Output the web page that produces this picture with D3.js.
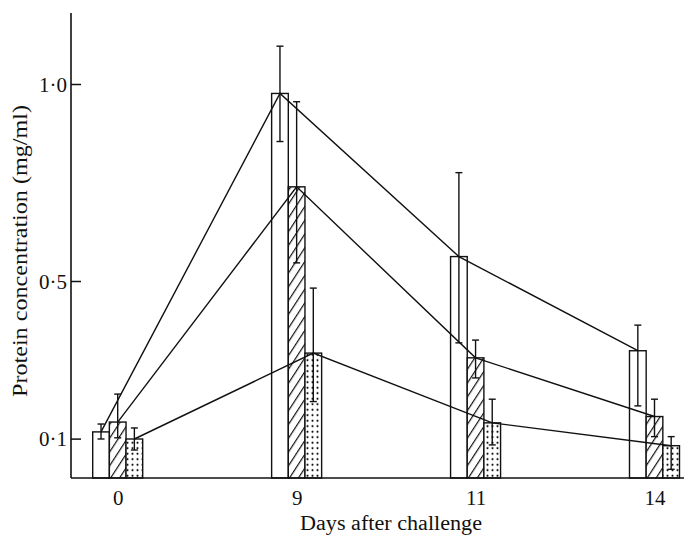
<!DOCTYPE html>
<html>
<head>
<meta charset="utf-8">
<script src="https://cdn.jsdelivr.net/npm/d3@7/dist/d3.min.js"></script>
<style>
html,body{margin:0;padding:0;background:#fff;}
svg{display:block;}
text{font-family:"Liberation Serif","DejaVu Serif",serif;fill:#111;}
</style>
</head>
<body>
<svg id="chart" width="684" height="537"></svg>
<script>
// ---- data ----
const days = ["0", "9", "11", "14"];
const seriesNames = ["open", "hatched", "dotted"];
const openValues    = [0.117, 0.976, 0.562, 0.323];
const hatchedValues = [0.142, 0.739, 0.305, 0.156];
const dottedValues  = [0.099, 0.317, 0.140, 0.082];
const openErrUp      = [0.020, 0.120, 0.213, 0.065];
const openErrDown    = [0.018, 0.122, 0.219, 0.140];
const hatchedErrUp   = [0.071, 0.216, 0.045, 0.044];
const hatchedErrDown = [0.040, 0.193, 0.051, 0.051];
const dottedErrUp    = [0.028, 0.165, 0.060, 0.023];
const dottedErrDown  = [0.028, 0.123, 0.056, 0.060];
const yTickValues = [0.1, 0.5, 1.0];
const yTickLabels = ["0·1", "0·5", "1·0"];
const yAxisTitle = "Protein concentration (mg/ml)";
const xAxisTitle = "Days after challenge";

const series = [
  {name: "open", values: openValues, up: openErrUp, down: openErrDown},
  {name: "hatched", values: hatchedValues, up: hatchedErrUp, down: hatchedErrDown},
  {name: "dotted", values: dottedValues, up: dottedErrUp, down: dottedErrDown}
];

const svg = d3.select("#chart");
const axisX = 71, baseY = 478;

// defs: patterns
const defs = svg.append("defs");
const hatch = defs.append("pattern").attr("id", "hatch")
  .attr("patternUnits", "userSpaceOnUse").attr("width", 7.5).attr("height", 10)
  .attr("patternTransform", "rotate(33)");
hatch.append("rect").attr("width", 7.5).attr("height", 10).attr("fill", "#fff");
hatch.append("line").attr("x1", 0.6).attr("y1", 0).attr("x2", 0.6).attr("y2", 10)
  .attr("stroke", "#111").attr("stroke-width", 1.2);
const dots = defs.append("pattern").attr("id", "dots")
  .attr("patternUnits", "userSpaceOnUse").attr("width", 5).attr("height", 5.5);
dots.append("rect").attr("width", 5).attr("height", 5.5).attr("fill", "#fff");
dots.append("circle").attr("cx", 2.5).attr("cy", 2.75).attr("r", 1.05).attr("fill", "#111");
const fills = {open: "#fff", hatched: "url(#hatch)", dotted: "url(#dots)"};

// scales
const y = d3.scaleLinear().domain([0, 1]).range([baseY, 84]);
const topY = y(1.18);
const x = d3.scalePoint().domain(days).range([117.7, 654.5]);
const xs = d3.scaleBand().domain(seriesNames).range([-25, 25]).paddingInner(0);
const bw = xs.bandwidth();

// bars
series.forEach(s => {
  svg.append("g").selectAll("rect").data(days).join("rect")
    .attr("x", (d) => x(d) + xs(s.name))
    .attr("y", (d, i) => y(s.values[i]))
    .attr("width", bw)
    .attr("height", (d, i) => baseY - y(s.values[i]))
    .attr("fill", fills[s.name])
    .attr("stroke", "#111").attr("stroke-width", 1.4);
});

// connecting lines
const line = d3.line().x(d => d[0]).y(d => d[1]);
series.forEach(s => {
  const pts = days.map((d, i) => [x(d) + xs(s.name) + bw / 2, y(s.values[i])]);
  svg.append("path").attr("d", line(pts)).attr("fill", "none")
    .attr("stroke", "#111").attr("stroke-width", 1.4);
});

// error bars
series.forEach(s => {
  const g = svg.append("g").attr("stroke", "#111").attr("stroke-width", 1.4);
  days.forEach((d, i) => {
    const cx = x(d) + xs(s.name) + bw / 2;
    const hi = y(s.values[i] + s.up[i]);
    const lo = Math.min(baseY, y(s.values[i] - s.down[i]));
    g.append("line").attr("x1", cx).attr("x2", cx).attr("y1", hi).attr("y2", lo);
    g.append("line").attr("x1", cx - 3.5).attr("x2", cx + 3.5).attr("y1", hi).attr("y2", hi);
    if (lo < baseY - 1) g.append("line").attr("x1", cx - 3.5).attr("x2", cx + 3.5).attr("y1", lo).attr("y2", lo);
  });
});

// y axis
const yAxis = d3.axisRight(y).tickValues(yTickValues)
  .tickFormat((d, i) => yTickLabels[i]).tickSize(10).tickPadding(0);
const ya = svg.append("g").attr("transform", `translate(${axisX},0)`).call(yAxis);
ya.select(".domain").remove();
ya.selectAll(".tick line").attr("stroke", "#111").attr("stroke-width", 1.5);
ya.selectAll(".tick text").attr("x", -4).attr("text-anchor", "end").attr("dy", "0.34em")
  .style("font-size", "21px").attr("fill", "#111");
svg.append("line").attr("x1", axisX).attr("x2", axisX).attr("y1", topY).attr("y2", baseY)
  .attr("stroke", "#111").attr("stroke-width", 1.6);

// x axis
const xAxis = d3.axisBottom(x).tickSize(0).tickPadding(12);
const xa = svg.append("g").attr("transform", `translate(0,${baseY})`).call(xAxis);
xa.select(".domain").remove();
xa.selectAll(".tick text").attr("y", 27).attr("dy", 0)
  .style("font-size", "21px").attr("fill", "#111");
svg.append("line").attr("x1", axisX).attr("x2", 684).attr("y1", baseY).attr("y2", baseY)
  .attr("stroke", "#111").attr("stroke-width", 1.6);

// titles
svg.append("text").attr("x", 391).attr("y", 530).attr("text-anchor", "middle")
  .style("font-size", "20px").attr("textLength", 182).attr("lengthAdjust", "spacingAndGlyphs")
  .text(xAxisTitle);
svg.append("text").attr("transform", "translate(27,251) rotate(-90)")
  .attr("text-anchor", "middle").style("font-size", "20px")
  .attr("textLength", 292).attr("lengthAdjust", "spacingAndGlyphs").text(yAxisTitle);
</script>
</body>
</html>
